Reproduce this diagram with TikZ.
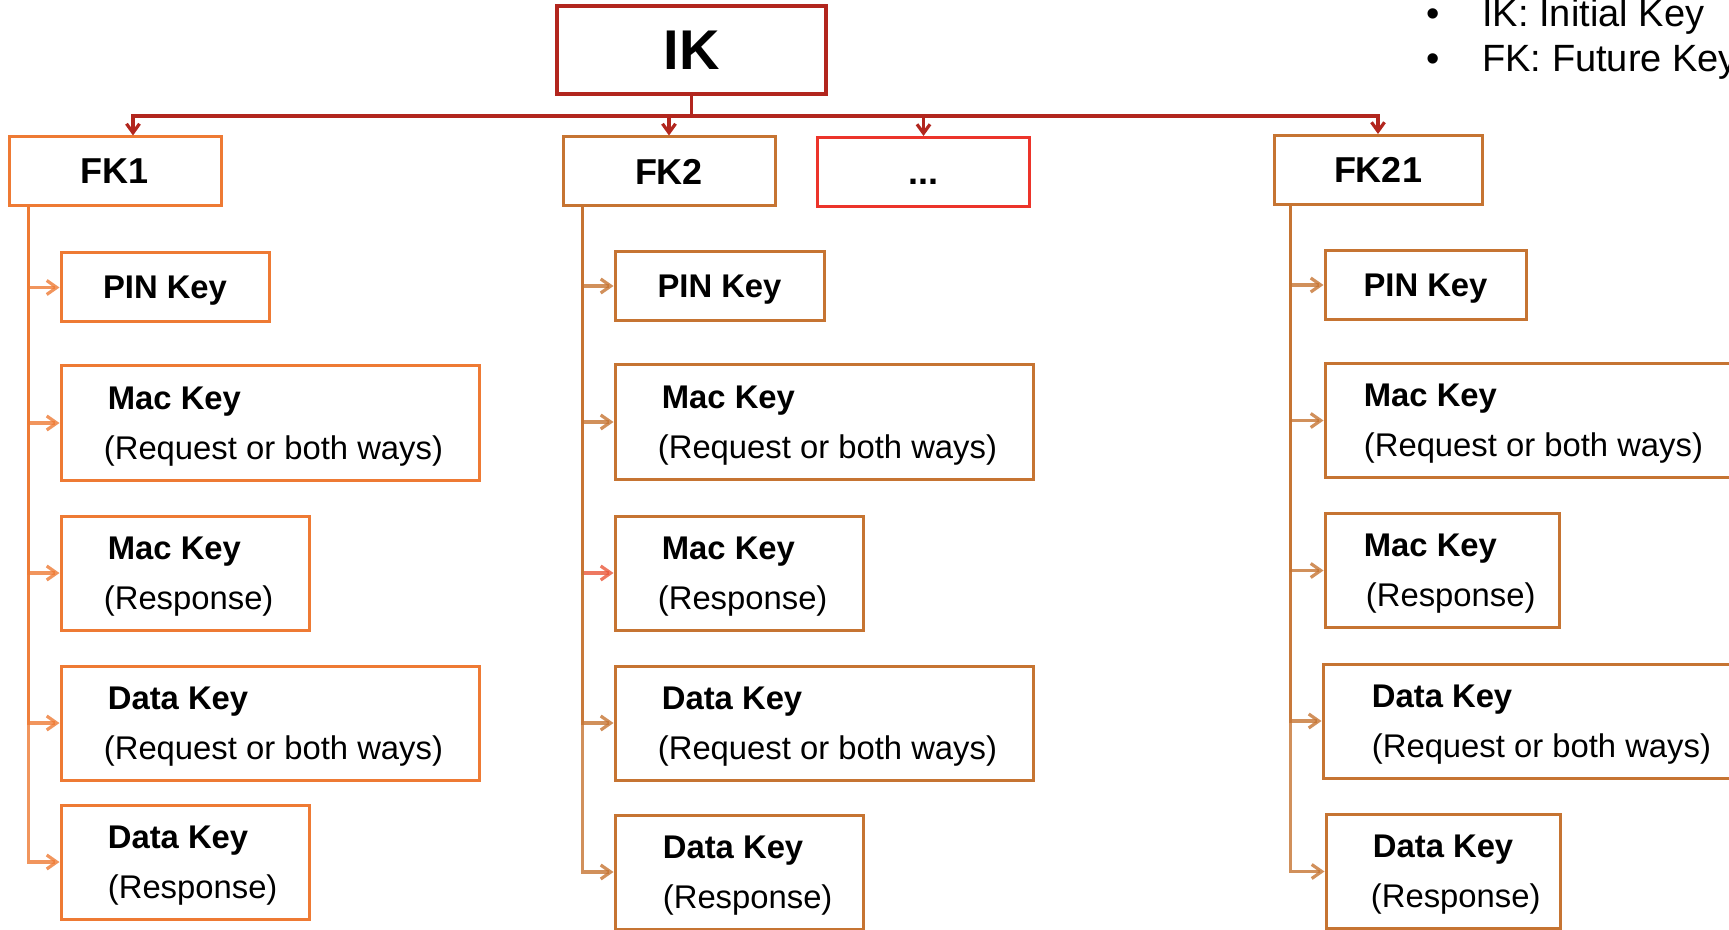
\documentclass[tikz,border=0pt]{standalone}
\usepackage{fontspec}
\setmainfont{Liberation Sans}
\usetikzlibrary{arrows.meta,calc}
\definecolor{ikred}{RGB}{178,38,30}
\definecolor{orA}{RGB}{238,122,52}
\definecolor{orB}{RGB}{198,116,50}
\definecolor{dotred}{RGB}{236,52,42}
\definecolor{hired}{RGB}{234,88,58}
\newcommand{\ttl}[2][2pt]{\hspace*{#1}\textbf{#2}}
\begin{document}
\begin{tikzpicture}[x=0.5pt,y=-0.5pt,
  box/.style={draw, line width=1.5pt, fill=white, inner sep=0pt},
  pinbox/.style={box, text depth=0pt, minimum height=34.5pt,
    font=\bfseries\fontsize{16.4pt}{25pt}\selectfont},
  wide/.style={box, minimum width=209pt, minimum height=57pt},
  narrow/.style={box, minimum width=124pt, minimum height=57pt},
  txt/.style={inner sep=0pt, align=left, anchor=west, font=\fontsize{16.4pt}{25pt}\selectfont},
  fkbox/.style={draw, line width=1.5pt, inner sep=0pt, minimum width=106pt, minimum height=34.5pt,
    font=\bfseries\fontsize{18pt}{20pt}\selectfont},
  ikbox/.style={draw=ikred, line width=2.4pt, inner sep=0pt, minimum width=134.5pt, minimum height=44pt,
    font=\bfseries\fontsize{28pt}{30pt}\selectfont},
  legend/.style={inner sep=0pt, font=\fontsize{19pt}{22pt}\selectfont},
  ikcon/.style={draw=ikred, line width=1.6pt, -{Straight Barb[length=4.5pt,width=6.5pt]}},
  con/.style={line width=1.6pt, draw opacity=0.8, -{Straight Barb[length=5pt,width=7pt]}},
]
\useasboundingbox (0,0) rectangle (1729,930);
\clip (0,0) rectangle (1729,930);

% top level
\node[ikbox] (IK) at (691.5,50) {IK};
\node[fkbox, draw=orA] (FK1) at (115,171.5) {FK1};
\node[fkbox, draw=orB] (FK2) at (669,171.5) {FK2};
\node[fkbox, draw=dotred, text height=12.9pt, text depth=0pt] (FKd) at (923.5,172) {...};
\node[fkbox, draw=orB, minimum width=104pt] (FK21) at (1378,170) {FK21};

% legend
\node[legend, anchor=base] (b1) at (1433,27) {•};
\node[legend, anchor=base west] (l1) at (1482,27) {IK: Initial Key};
\node[legend, anchor=base] (b2) at (1433,72) {•};
\node[legend, anchor=base west] (l2) at (1482,72) {FK: Future Key};

% IK connectors
\coordinate (bus) at (0,116);
\draw[ikcon] (IK.south) -- (IK.south |- bus) -| ([xshift=9pt]FK1.north);
\draw[ikcon] (IK.south) -- (IK.south |- bus) -| (FK2.north);
\draw[ikcon] (IK.south) -- (IK.south |- bus) -| (FKd.north);
\draw[ikcon] (IK.south) -- (IK.south |- bus) -| (FK21.north);

% column 1
\node[pinbox, draw=orA, minimum width=104pt] (a1) at (165,287.5) {PIN Key};
\node[wide, draw=orA] (a2) at (270,423) {};
\node[narrow, draw=orA] (a3) at (185,573) {};
\node[wide, draw=orA] (a4) at (270,723) {};
\node[narrow, draw=orA] (a5) at (185,862) {};
\node[txt] (a2t) at ([xshift=22pt,yshift=-1.6pt]a2.west) {\ttl{Mac Key}\\(Request or both ways)};
\node[txt] (a3t) at ([xshift=22pt,yshift=-1.6pt]a3.west) {\ttl{Mac Key}\\(Response)};
\node[txt] (a4t) at ([xshift=22pt,yshift=-1.6pt]a4.west) {\ttl{Data Key}\\(Request or both ways)};
\node[txt] (a5t) at ([xshift=24pt,yshift=-1.6pt]a5.west) {\ttl[0pt]{Data Key}\\(Response)};

% column 2
\node[pinbox, draw=orB, minimum width=104.5pt] (b1k) at (719.5,286) {PIN Key};
\node[wide, draw=orB] (b2k) at (824,422) {};
\node[narrow, draw=orB] (b3k) at (739,573) {};
\node[wide, draw=orB] (b4k) at (824,723) {};
\node[narrow, draw=orB] (b5k) at (739,872) {};
\node[txt] (b2t) at ([xshift=22pt,yshift=-1.6pt]b2k.west) {\ttl{Mac Key}\\(Request or both ways)};
\node[txt] (b3t) at ([xshift=22pt,yshift=-1.6pt]b3k.west) {\ttl{Mac Key}\\(Response)};
\node[txt] (b4t) at ([xshift=22pt,yshift=-1.6pt]b4k.west) {\ttl{Data Key}\\(Request or both ways)};
\node[txt] (b5t) at ([xshift=24.5pt,yshift=-1.6pt]b5k.west) {\ttl[0pt]{Data Key}\\(Response)};

% column 3
\node[pinbox, draw=orB, minimum width=100.5pt] (c1) at (1425.5,285) {PIN Key};
\node[wide, draw=orB] (c2) at (1534,420.5) {};
\node[narrow, draw=orB, minimum width=117pt] (c3) at (1442,570.5) {};
\node[wide, draw=orB] (c4) at (1532,721) {};
\node[narrow, draw=orB, minimum width=117pt] (c5) at (1443,871.5) {};
\node[txt] (c2t) at ([xshift=20pt,yshift=-1.6pt]c2.west) {\ttl[0pt]{Mac Key}\\(Request or both ways)};
\node[txt] (c3t) at ([xshift=21pt,yshift=-1.6pt]c3.west) {\ttl[-1pt]{Mac Key}\\(Response)};
\node[txt] (c4t) at ([xshift=25pt,yshift=-1.6pt]c4.west) {\ttl[0pt]{Data Key}\\(Request or both ways)};
\node[txt] (c5t) at ([xshift=23pt,yshift=-1.6pt]c5.west) {\ttl[1pt]{Data Key}\\(Response)};

% column connectors
\foreach \n in {a1,a2,a3,a4,a5}
  \draw[con, draw=orA] ([xshift=10.5pt]FK1.south west) |- (\n.west);
\draw[con, draw=hired] ([xshift=10.5pt]FK2.south west) |- (b3k.west);
\foreach \n in {b1k,b2k,b4k,b5k}
  \draw[con, draw=orB] ([xshift=10.5pt]FK2.south west) |- (\n.west);
\foreach \n in {c1,c2,c3,c4,c5}
  \draw[con, draw=orB] ([xshift=9pt]FK21.south west) |- (\n.west);
\end{tikzpicture}
\end{document}
